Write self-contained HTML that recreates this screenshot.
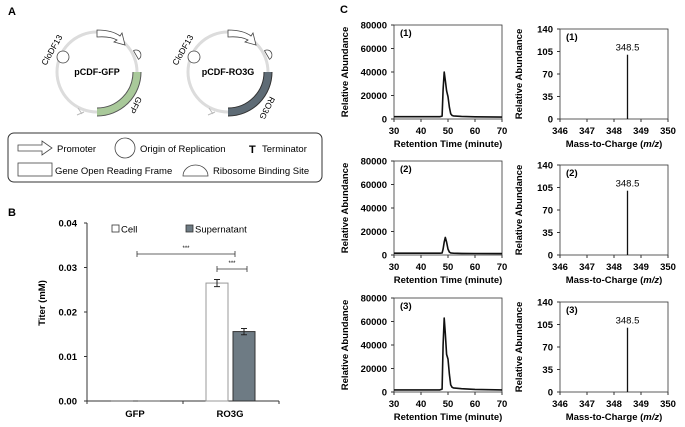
<!DOCTYPE html>
<html><head><meta charset="utf-8">
<style>
html,body{margin:0;padding:0;background:#fff;}
svg{display:block;font-family:"Liberation Sans",Arial,sans-serif;}
.b{font-weight:bold;}
</style></head>
<body>
<svg id="fig" width="685" height="427" viewBox="0 0 685 427" xmlns="http://www.w3.org/2000/svg">
<g>
<text x="8" y="15" class="b" font-size="11">A</text>
<g>
 <circle cx="97" cy="72" r="40" fill="none" stroke="#dcdcdc" stroke-width="3"/>
 <path d="M137,72 A40,40 0 0 1 97,112" fill="none" stroke="#555" stroke-width="9"/>
 <path d="M137,72 A40,40 0 0 1 97,112" fill="none" stroke="#a9c99a" stroke-width="7"/>
 <circle cx="63" cy="57" r="6" fill="#fff" stroke="#444" stroke-width="0.8"/>
 <path d="M131,55 a5,5 0 0 1 10,0 z" fill="#fff" stroke="#444" stroke-width="0.8" transform="rotate(60 136 55)"/>
 <path d="M97,30 Q112,30 120,36 L122,33 L125,45 L114,42 L117,40 Q110,36 97,37 Z" fill="#fff" stroke="#444" stroke-width="0.8"/>
 <path d="M78,108 l4,6 M77,115 l7,-3" stroke="#bbb" stroke-width="1"/>
 <text x="97" y="75" text-anchor="middle" class="b" font-size="9">pCDF-GFP</text>
 <text x="0" y="0" font-size="8.5" transform="translate(46,66) rotate(-60)">CloDF13</text>
 <text x="0" y="0" font-size="8.5" transform="translate(137,96) rotate(117)">GFP</text>
</g>
<g>
 <circle cx="228" cy="72" r="40" fill="none" stroke="#dcdcdc" stroke-width="3"/>
 <path d="M268,72 A40,40 0 0 1 228,112" fill="none" stroke="#333" stroke-width="9"/>
 <path d="M268,72 A40,40 0 0 1 228,112" fill="none" stroke="#5e6b75" stroke-width="7"/>
 <circle cx="194" cy="57" r="6" fill="#fff" stroke="#444" stroke-width="0.8"/>
 <path d="M262,55 a5,5 0 0 1 10,0 z" fill="#fff" stroke="#444" stroke-width="0.8" transform="rotate(60 267 55)"/>
 <path d="M228,30 Q243,30 251,36 L253,33 L256,45 L245,42 L248,40 Q241,36 228,37 Z" fill="#fff" stroke="#444" stroke-width="0.8"/>
 <path d="M209,108 l4,6 M208,115 l7,-3" stroke="#bbb" stroke-width="1"/>
 <text x="228" y="75" text-anchor="middle" class="b" font-size="9">pCDF-RO3G</text>
 <text x="0" y="0" font-size="8.5" transform="translate(177,66) rotate(-60)">CloDF13</text>
 <text x="0" y="0" font-size="8.5" transform="translate(270,96) rotate(117)">RO3G</text>
</g>
<g>
 <rect x="8" y="133" width="314" height="49" rx="6" fill="#fff" stroke="#333" stroke-width="1"/>
 <path d="M18,145 H42 V141 L52,148 L42,155 V151 H18 Z" fill="#fff" stroke="#444" stroke-width="0.8"/>
 <text x="57" y="152" font-size="9.5">Promoter</text>
 <circle cx="125" cy="148" r="10" fill="#fff" stroke="#444" stroke-width="0.8"/>
 <text x="140" y="152" font-size="9.5">Origin of Replication</text>
 <text x="249" y="153" font-size="11" class="b">T</text>
 <text x="262" y="152" font-size="9.5">Terminator</text>
 <rect x="18" y="163" width="34" height="13" fill="#fff" stroke="#444" stroke-width="0.8"/>
 <text x="55" y="174" font-size="9.5">Gene Open Reading Frame</text>
 <path d="M183,176 a12.5,11 0 0 1 25,0 z" fill="#fff" stroke="#444" stroke-width="0.8"/>
 <text x="213" y="174" font-size="9.5">Ribosome Binding Site</text>
</g>
</g>
<g id="panelB">
<text x="8" y="216" class="b" font-size="11">B</text>
<text x="0" y="0" class="b" font-size="9.5" text-anchor="middle" transform="translate(45,303) rotate(-90)">Titer (mM)</text>
</g>
<g id="panelC">
<text x="340" y="13" class="b" font-size="11">C</text>
</g>
</svg>
<script>
// Panel B data
const bCategories = ["GFP","RO3G"];
const bSeriesNames = ["Cell","Supernatant"];
const bCell = [0, 0.0265];
const bSuper = [0, 0.0156];
const bCellErr = [0, 0.0008];
const bSuperErr = [0, 0.0007];
const bTicks = [0, 0.01, 0.02, 0.03, 0.04];
const bTickLabels = ["0.00","0.01","0.02","0.03","0.04"];
// Panel C data
const cTimeTicks = [30,40,50,60,70];
const cAbTicks = [0,20000,40000,60000,80000];
const cMzTicks = [346,347,348,349,350];
const cMsTicks = [0,35,70,105,140];
const cSampleLabels = ["(1)","(2)","(3)"];
const cTime = [30,40,47,47.8,48.2,48.6,49.0,49.5,50.0,50.5,51.0,51.5,52,55,60,70];
const cAb1 = [2000,2000,2000,2500,25000,40000,33000,24000,19000,10000,4500,3000,2600,2200,1900,1600];
const cAb2 = [1500,1500,1500,1700,5000,11000,15000,11000,5000,2500,1800,1600,1500,1400,1300,1200];
const cAb3 = [1800,1800,1800,2500,40000,63000,50000,32000,28000,15000,6000,4000,3500,2800,2200,1800];
const cMz = [348.5];
const cMsVal = [100];
const cMsLabel = ["348.5"];

const NS="http://www.w3.org/2000/svg";
const FS=9.5;
function mk(parent,tag,attrs,text){const e=document.createElementNS(NS,tag);for(const k in attrs)e.setAttribute(k,attrs[k]);if(text!==undefined)e.textContent=text;parent.appendChild(e);return e;}

(function(){
 const g=document.getElementById('panelB');
 const x0=87,x1=279,yTop=223,yBot=401,vmax=0.04;
 const y=v=>yBot-(v/vmax)*(yBot-yTop);
 const cx=i=>135+i*(230-135);
 const ax=mk(g,'path',{d:`M${x0},${yTop} V${yBot} H${x1}`,fill:'none',stroke:'#333','stroke-width':1});
 
 
 bTicks.forEach((t,i)=>{
  mk(g,'line',{x1:x0-3,x2:x0,y1:y(t),y2:y(t),stroke:'#333'});
  const tl=mk(g,'text',{x:x0-10,y:y(t)+3.5,'text-anchor':'end','font-size':FS,'font-weight':'bold'},bTickLabels[i]);
  
  
 });
 [x0,(x0+x1)/2,x1].forEach(xx=>mk(g,'line',{x1:xx,x2:xx,y1:yBot,y2:yBot+3,stroke:'#333'}));
 bCategories.forEach((c,i)=>{
  const t=mk(g,'text',{x:cx(i),y:yBot+16,'text-anchor':'middle','font-size':FS,'font-weight':'bold'},c);
  
  
  const bw=22;
  [[bCell,bCellErr,-24,'#fff','#999'],[bSuper,bSuperErr,3,'#6e7b84','#333']].forEach((s,k)=>{
   const v=s[0][i];
   if(v<=0){mk(g,'line',{x1:cx(i)+s[2],x2:cx(i)+s[2]+bw,y1:yBot,y2:yBot,stroke:'#555'});return;}
   const r=mk(g,'rect',{x:cx(i)+s[2],y:y(v),width:bw,height:yBot-y(v),fill:s[3],stroke:s[4],'stroke-width':1});
   
   
   const e=s[1][i],mx=cx(i)+s[2]+bw/2;
   mk(g,'path',{d:`M${mx},${y(v+e)} V${y(v-e)} M${mx-3},${y(v+e)} H${mx+3} M${mx-3},${y(v-e)} H${mx+3}`,stroke:'#222',fill:'none'});
  });
 });
 const sig=(xa,xb,yy)=>{mk(g,'path',{d:`M${xa},${yy-3} V${yy+3} M${xa},${yy} H${xb} M${xb},${yy-3} V${yy+3}`,stroke:'#333',fill:'none','stroke-width':0.8});
  mk(g,'text',{x:(xa+xb)/2,y:yy-4,'text-anchor':'middle','font-size':6},'***');};
 sig(137,235,254);sig(217,247,269);
 const l1=mk(g,'rect',{x:112,y:225,width:7,height:7,fill:'#fff',stroke:'#333','stroke-width':0.8});
 
 
 mk(g,'text',{x:121,y:232.5,'font-size':FS},'Cell');
 const l2=mk(g,'rect',{x:186,y:225,width:7,height:7,fill:'#6e7b84',stroke:'#333','stroke-width':0.8});
 
 
 mk(g,'text',{x:195,y:232.5,'font-size':FS},'Supernatant');
})();

(function(){
 const g=document.getElementById('panelC');
 const tops=[25,161,298],H=94;
 const series=[cAb1,cAb2,cAb3];
 tops.forEach((top,r)=>{
  const bot=top+H;
  const X0=394,X1=502;
  const xs=v=>X0+(v-30)/40*(X1-X0);
  const ys=v=>bot-v/80000*H;
  const box=mk(g,'rect',{x:X0,y:top,width:X1-X0,height:H,fill:'none',stroke:'#333','stroke-width':0.8});
  
  
  cAbTicks.forEach(t=>{mk(g,'line',{x1:X0-3,x2:X0,y1:ys(t),y2:ys(t),stroke:'#333'});
   mk(g,'text',{x:X0-7,y:ys(t)+3.5,'text-anchor':'end','font-size':FS,'font-weight':'bold'},String(t));});
  cTimeTicks.forEach(t=>{mk(g,'line',{x1:xs(t),x2:xs(t),y1:bot,y2:bot+3,stroke:'#333'});
   mk(g,'text',{x:xs(t),y:bot+15,'text-anchor':'middle','font-size':FS,'font-weight':'bold'},String(t));});
  mk(g,'text',{x:(X0+X1)/2,y:bot+28,'text-anchor':'middle','font-size':FS,'font-weight':'bold'},'Retention Time (minute)');
  mk(g,'text',{x:0,y:0,'text-anchor':'middle','font-size':FS,'font-weight':'bold',transform:`translate(348,${top+H/2}) rotate(-90)`},'Relative Abundance');
  mk(g,'text',{x:X0+6,y:top+11,'font-size':FS,'font-weight':'bold'},cSampleLabels[r]);
  const pts=cTime.map((t,i)=>xs(t).toFixed(1)+','+ys(series[r][i]).toFixed(1)).join(' ');
  const pl=mk(g,'polyline',{points:pts,fill:'none',stroke:'#111','stroke-width':1.6,'stroke-linejoin':'round'});
  
  
  const M0=560,M1=668,mtop=top+4,mH=bot-mtop;
  const xm=v=>M0+(v-346)/4*(M1-M0);
  const ym=v=>bot-v/140*mH;
  const mb=mk(g,'rect',{x:M0,y:mtop,width:M1-M0,height:mH,fill:'none',stroke:'#333','stroke-width':0.8});
  
  
  cMsTicks.forEach(t=>{mk(g,'line',{x1:M0-3,x2:M0,y1:ym(t),y2:ym(t),stroke:'#333'});
   mk(g,'text',{x:M0-7,y:ym(t)+3.5,'text-anchor':'end','font-size':FS,'font-weight':'bold'},String(t));});
  cMzTicks.forEach(t=>{mk(g,'line',{x1:xm(t),x2:xm(t),y1:bot,y2:bot+3,stroke:'#333'});
   mk(g,'text',{x:xm(t),y:bot+15,'text-anchor':'middle','font-size':FS,'font-weight':'bold'},String(t));});
  const xt=mk(g,'text',{x:(M0+M1)/2,y:bot+28,'text-anchor':'middle','font-size':FS,'font-weight':'bold'});
  xt.innerHTML='Mass-to-Charge (<tspan font-style="italic">m/z</tspan>)';
  mk(g,'text',{x:0,y:0,'text-anchor':'middle','font-size':FS,'font-weight':'bold',transform:`translate(522,${mtop+mH/2}) rotate(-90)`},'Relative Abundance');
  mk(g,'text',{x:M0+6,y:mtop+11,'font-size':FS,'font-weight':'bold'},cSampleLabels[r]);
  cMz.forEach((m,i)=>{
   const ln=mk(g,'line',{x1:xm(m),x2:xm(m),y1:bot,y2:ym(cMsVal[i]),stroke:'#111','stroke-width':1.3});
   
   
   mk(g,'text',{x:xm(m),y:ym(cMsVal[i])-4,'text-anchor':'middle','font-size':FS},cMsLabel[i]);
  });
 });
})();
</script>
</body></html>
